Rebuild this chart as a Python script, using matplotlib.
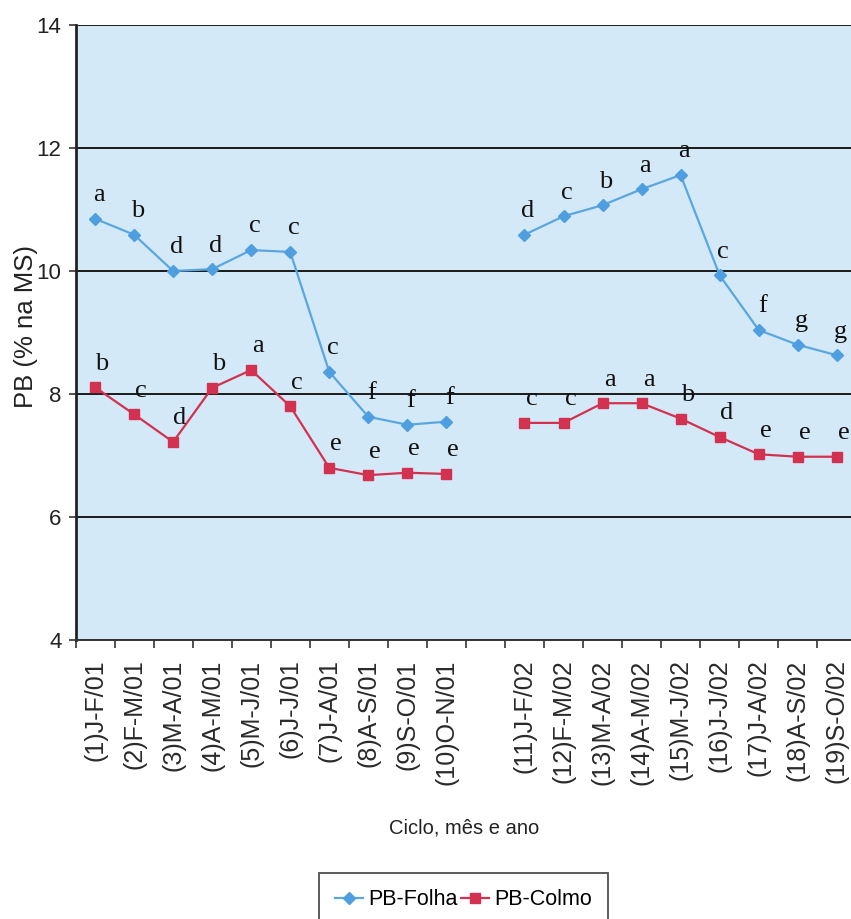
import matplotlib
matplotlib.use("Agg")
import matplotlib.pyplot as plt
import numpy as np

# category labels (slot 10 is an empty gap between the two years)
labels = ["(1)J-F/01", "(2)F-M/01", "(3)M-A/01", "(4)A-M/01", "(5)M-J/01",
          "(6)J-J/01", "(7)J-A/01", "(8)A-S/01", "(9)S-O/01", "(10)O-N/01",
          "",
          "(11)J-F/02", "(12)F-M/02", "(13)M-A/02", "(14)A-M/02", "(15)M-J/02",
          "(16)J-J/02", "(17)J-A/02", "(18)A-S/02", "(19)S-O/02"]

pb_folha = [10.85, 10.59, 10.00, 10.03, 10.34, 10.31, 8.36, 7.63, 7.50, 7.55,
            np.nan,
            10.59, 10.89, 11.07, 11.33, 11.56, 9.93, 9.04, 8.80, 8.63]
pb_colmo = [8.11, 7.67, 7.22, 8.10, 8.39, 7.80, 6.80, 6.68, 6.72, 6.70,
            np.nan,
            7.53, 7.53, 7.85, 7.85, 7.60, 7.30, 7.02, 6.98, 6.98]

letras_folha = ["a", "b", "d", "d", "c", "c", "c", "f", "f", "f", "",
                "d", "c", "b", "a", "a", "c", "f", "g", "g"]
letras_colmo = ["b", "c", "d", "b", "a", "c", "e", "e", "e", "e", "",
                "c", "c", "a", "a", "b", "d", "e", "e", "e"]

x = np.arange(len(labels))

fig = plt.figure(figsize=(8.51, 9.19), dpi=100)
ax = fig.add_axes([75.5 / 851, 1 - 640 / 919, 780.8 / 851, 615 / 919])
ax.set_facecolor("#d4e9f7")

blue = "#5aa6df"
red = "#d2314f"
ax.plot(x, pb_folha, color=blue, lw=1.6, marker="D", ms=6.5, mfc="#4e9ee0",
        mec="#4e9ee0", label="PB-Folha", zorder=3)
ax.plot(x, pb_colmo, color=red, lw=1.6, marker="s", ms=6.5, mfc=red,
        mec=red, label="PB-Colmo", zorder=3)

for xi, v, t in zip(x, pb_folha, letras_folha):
    if t:
        ax.annotate(t, (xi, v), xytext=(2.5, 17), textcoords="offset points",
                    ha="center", va="center", fontsize=19,
                    family="Liberation Serif", color="#111111", zorder=4)
for xi, v, t in zip(x, pb_colmo, letras_colmo):
    if t:
        ax.annotate(t, (xi, v), xytext=(5, 17), textcoords="offset points",
                    ha="center", va="center", fontsize=19,
                    family="Liberation Serif", color="#111111", zorder=4)

ax.set_ylim(4, 14)
ax.set_yticks([4, 6, 8, 10, 12, 14])
ax.set_xlim(-0.5, len(labels) - 0.5)
ax.grid(axis="y", color="#1a1a1a", lw=1.4, zorder=1)
ax.set_axisbelow(True)

# category labels at slot centres, tick marks at slot boundaries
ax.set_xticks(x)
ax.set_xticklabels(labels, rotation=90, fontsize=18, family="Liberation Sans",
                   color="#2a2a2a")
ax.tick_params(axis="x", which="major", length=0, pad=14)
ax.set_xticks(np.arange(-0.5, len(labels)), minor=True)
ax.tick_params(axis="x", which="minor", length=6, width=1.2, color="#333333",
               direction="out")
ax.tick_params(axis="y", length=5, width=1.2, color="#333333", pad=5,
               labelsize=16, labelcolor="#222222")
for lab in ax.get_yticklabels():
    lab.set_family("Liberation Sans")

for s in ["top", "right"]:
    ax.spines[s].set_visible(False)
ax.spines["left"].set_color("#222222")
ax.spines["left"].set_linewidth(2)
ax.spines["bottom"].set_color("#333333")
ax.spines["bottom"].set_linewidth(1.4)

ax.set_ylabel("PB (% na MS)", fontsize=18.5, family="Liberation Sans",
              color="#222222")
ax.yaxis.set_label_coords(-0.048, 0.51)
ax.set_xlabel("Ciclo, mês e ano", fontsize=14.5, family="Liberation Sans",
              color="#222222")
ax.xaxis.set_label_coords(0.4975, -0.29)

leg = fig.legend(loc="upper center", bbox_to_anchor=(463.5 / 851, 1 - 873 / 919),
                 ncol=2, frameon=True, fancybox=False, handlelength=1.3,
                 handletextpad=0.2, columnspacing=0.2, borderpad=0.75,
                 borderaxespad=0,
                 prop={"family": "Liberation Sans", "size": 15.5})
leg.get_frame().set_edgecolor("#222222")
leg.get_frame().set_linewidth(1.3)

fig.savefig("out.png", dpi=100)
